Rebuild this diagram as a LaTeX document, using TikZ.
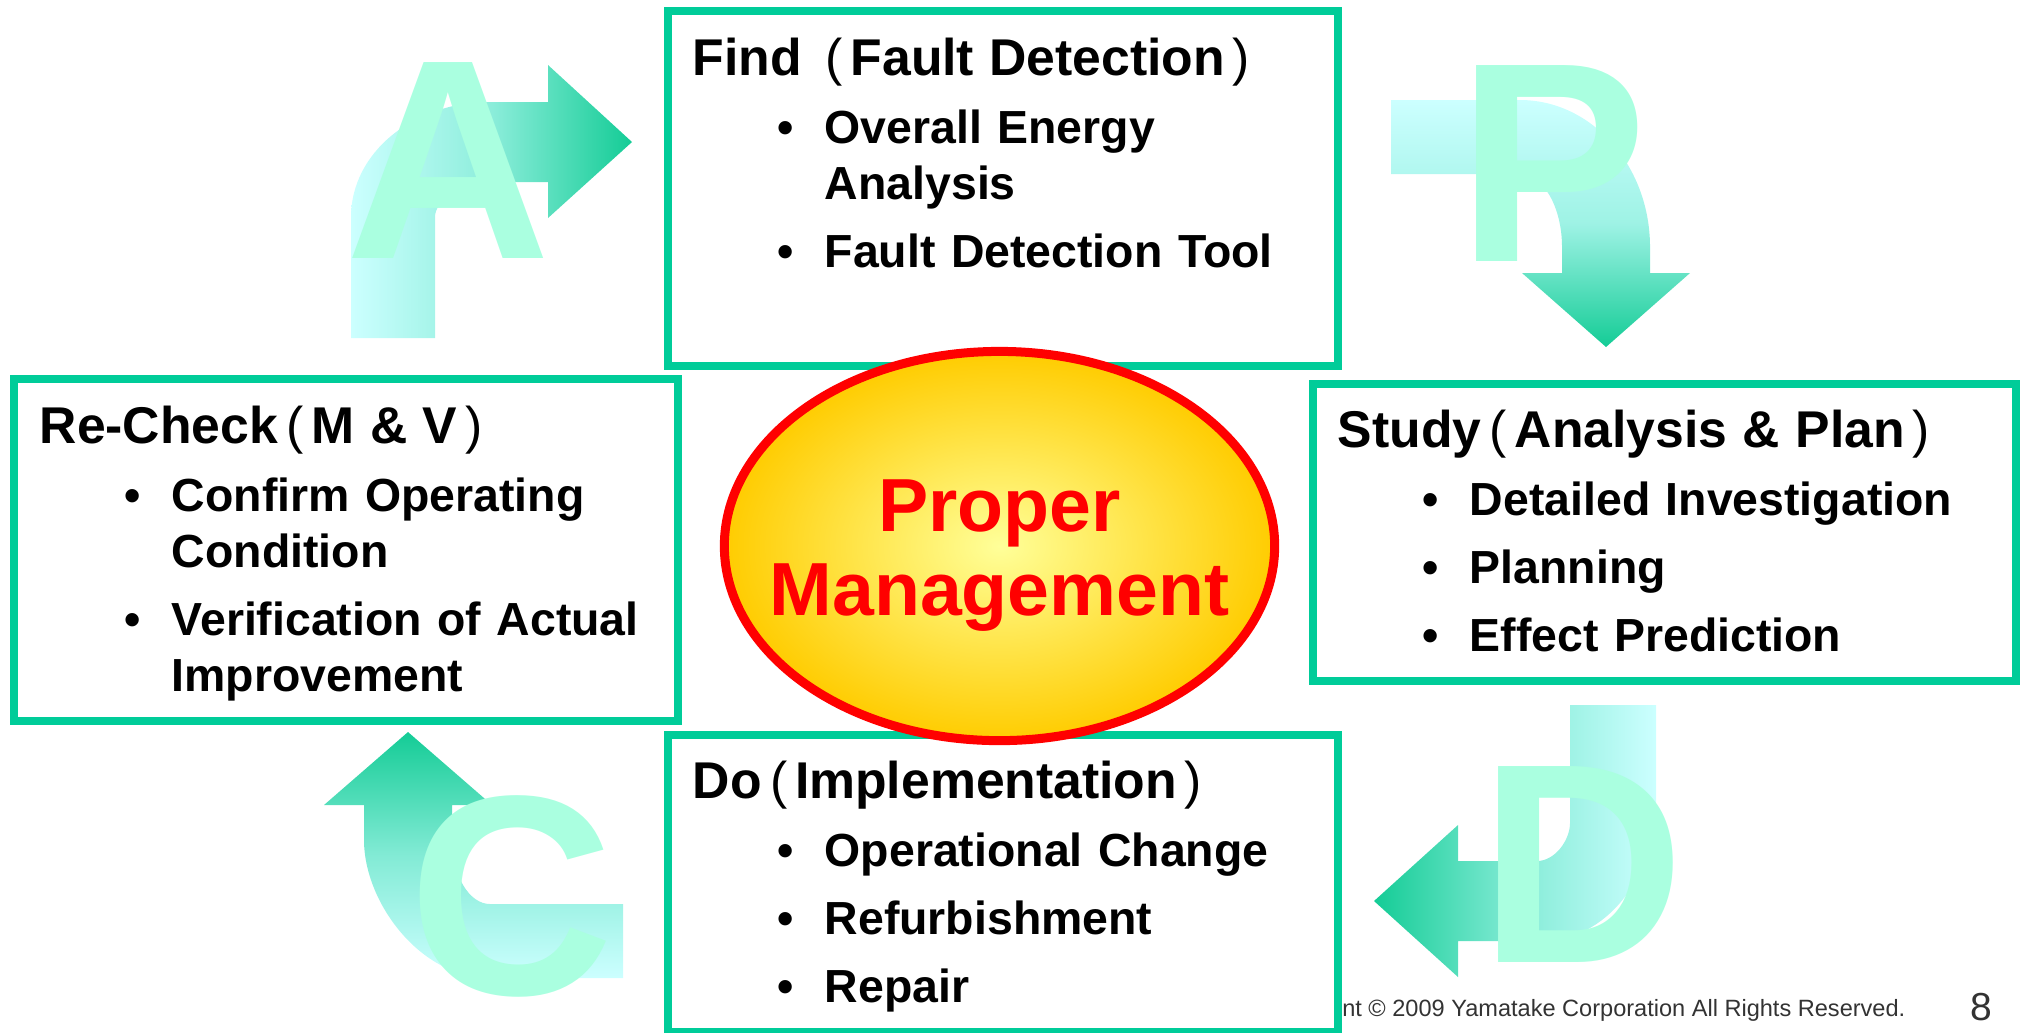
\documentclass[tikz,border=0pt]{standalone}
\usepackage{fontspec}
\setmainfont{Liberation Sans}
\usetikzlibrary{
    calc,
    positioning,
    shapes.geometric%
}
\definecolor{boxGreen}{RGB}{0,204,153}
\definecolor{arrowLight}{RGB}{204,255,255}
\definecolor{arrowDark}{RGB}{20,204,150}
\definecolor{letterMint}{RGB}{170,255,224}
\definecolor{mgmtInner}{RGB}{255,255,153}
\definecolor{mgmtOuter}{RGB}{255,204,0}
\definecolor{footerGray}{RGB}{51,51,51}

\newcommand\lpar{\hspace{2.4pt}{\mdseries(}\hspace{2.2pt}}
\newcommand\rpar{\hspace{2.2pt}{\mdseries)}}
\newcommand\phaseHead[1]{{\fontsize{14.7pt}{17pt}\selectfont\rule{0pt}{17.07pt}#1\par}}
\newcommand\phaseItem[1]{\par{\leftskip=37.56pt\noindent\llap{\textbullet\hspace{8.8pt}}#1\par}}

\tikzset{
    % Phase boxes
    phaseBox/.style={
        draw=boxGreen,
        line width=2.3pt,
        fill=white,
        anchor=north west,
        outer sep=0pt,
        inner sep=0pt
    },
    phaseText/.style={
        inner sep=0pt,
        align=left,
        font={\bfseries\fontsize{13.2pt}{15.93pt}\selectfont},
        execute at begin node={\setlength\parskip{3.41pt}\setlength\parindent{0pt}}
    },
    % Centre ellipse
    mgmtEllipse/.style={
        ellipse,
        draw=red,
        line width=2.56pt,
        inner color=mgmtInner,
        outer color=mgmtOuter,
        minimum width=5.5cm,
        minimum height=3.89cm,
        inner sep=0pt
    },
    mgmtText/.style={
        text=red,
        align=center,
        inner sep=0pt,
        font={\bfseries\fontsize{21.4pt}{23.9pt}\selectfont}
    },
    % Cycle letters
    letterBig/.style={
        text=letterMint,
        inner sep=0pt,
        font={\bfseries\fontsize{81pt}{81pt}\selectfont}
    },
    footer/.style={
        text=footerGray,
        inner sep=0pt,
        font={\fontsize{6.7pt}{8pt}\selectfont}
    }
}

\begin{document}
\begin{tikzpicture}[x=0.01cm, y=-0.01cm]
    \useasboundingbox (0,0) rectangle (2022,1032);

    % A arrow (up, then right)
    \shade[left color=arrowLight, right color=arrowDark, middle color=arrowLight!65!arrowDark]
        (351,338) -- (351,217) .. controls (351,153) and (413,102) .. (490,102)
        -- (548,102) -- (548,65) -- (632,142) -- (548,218) -- (548,182) -- (490,182)
        .. controls (460,182) and (435,201) .. (435,217) -- (435,338) -- cycle;
    % P arrow (right, then down)
    \shade[top color=arrowLight, bottom color=arrowDark, middle color=arrowLight!75!arrowDark]
        (1391,100) -- (1520,100) .. controls (1592,100) and (1650,166) .. (1650,247)
        -- (1650,273) -- (1690,273) -- (1606,347) -- (1522,273) -- (1562,273) -- (1562,247)
        .. controls (1562,207) and (1543,174) .. (1520,174) -- (1391,174) -- cycle;
    % D arrow (down, then left)
    \shade[left color=arrowDark, right color=arrowLight, middle color=arrowLight!60!arrowDark]
        (1570,705) -- (1656,705) -- (1656,800) .. controls (1656,878) and (1605,941) .. (1542,941)
        -- (1458,941) -- (1458,977) -- (1374,901) -- (1458,825) -- (1458,861) -- (1537,861)
        .. controls (1555,861) and (1570,840) .. (1570,823) -- cycle;
    % C arrow (left, then up)
    \shade[top color=arrowDark, bottom color=arrowLight, middle color=arrowLight!60!arrowDark]
        (623,904) -- (623,978) -- (490,978) .. controls (420,978) and (364,902) .. (364,840)
        -- (364,805) -- (324,805) -- (408,732) -- (492,805) -- (452,805) -- (452,840)
        .. controls (452,875) and (469,904) .. (490,904) -- cycle;

    \node[letterBig] (letterA) at (448,160) {A};
    \node[letterBig] (letterP) at (1552,163) {P};
    \node[letterBig] (letterD) at (1582,864) {D};
    \node[letterBig] (letterC) at (511,896) {C};

    \node[footer, anchor=base east] (copyright) at (1906,1016) {nt © 2009 Yamatake Corporation All Rights Reserved.};
    \node[footer, anchor=base west, font={\fontsize{11.1pt}{13pt}\selectfont}] (pageNum) at (1970,1020) {8};

    % Phase boxes
    \node[phaseBox, minimum width=6.7cm, minimum height=3.55cm] (findBox) at (668,11) {};
    \node[phaseBox, minimum width=6.64cm, minimum height=3.42cm] (checkBox) at (14,379) {};
    \node[phaseBox, minimum width=7.03cm, minimum height=2.97cm] (studyBox) at (1313,384) {};
    \node[phaseBox, minimum width=6.7cm, minimum height=2.97cm] (doBox) at (668,735) {};

    \node[phaseText, text width=6.4cm, below right=0.04cm and 0.24cm of findBox.north west] (findText) {
        \phaseHead{Find \lpar Fault Detection\rpar}
        \phaseItem{Overall Energy\newline Analysis}
        \phaseItem{Fault Detection Tool}};
    \node[phaseText, text width=6.35cm, below right=0.04cm and 0.25cm of checkBox.north west] (checkText) {
        \phaseHead{Re-Check\lpar M \& V\rpar}
        \phaseItem{Confirm Operating\newline Condition}
        \phaseItem{Verification of Actual\newline Improvement}};
    \node[phaseText, text width=6.75cm, below right=0.03cm and 0.24cm of studyBox.north west] (studyText) {
        \phaseHead{Study\lpar Analysis \& Plan\rpar}
        \phaseItem{Detailed Investigation}
        \phaseItem{Planning}
        \phaseItem{Effect Prediction}};
    \node[phaseText, text width=6.4cm, below right=0.03cm and 0.24cm of doBox.north west] (doText) {
        \phaseHead{Do\lpar Implementation\rpar}
        \phaseItem{Operational Change}
        \phaseItem{Refurbishment}
        \phaseItem{Repair}};

    % Centre
    \node[mgmtEllipse] (mgmt) at (999.5,546) {};
    \node[mgmtText] (mgmtLabel) at ([yshift=-0.1cm]mgmt.center) {Proper\\Management};

\end{tikzpicture}
\end{document}
